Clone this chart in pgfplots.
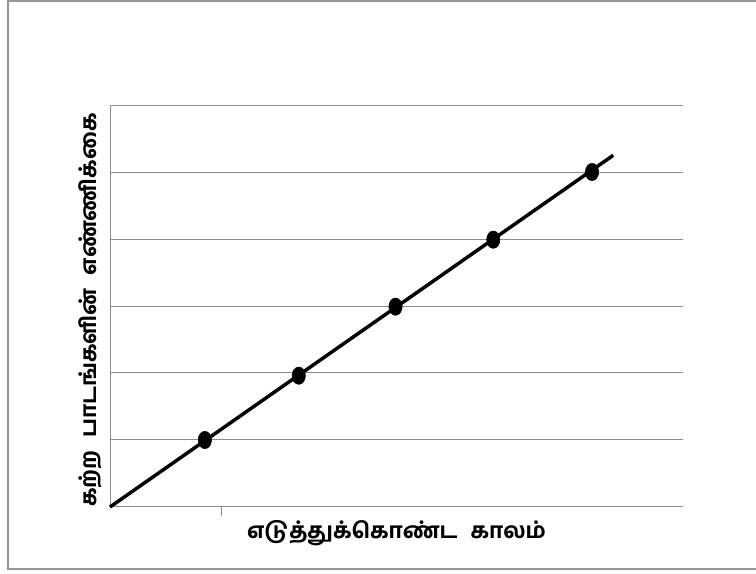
\documentclass[border=0pt]{standalone}
\usepackage{pgfplots}
\pgfplotsset{compat=1.18}
\usepackage{fontspec}
\newfontfamily\tamilfont[Script=Tamil, BoldFont={Hind Madurai Bold}]{Hind Madurai}
\definecolor{gridgray}{RGB}{140,140,140}
\definecolor{framegray}{RGB}{150,150,150}
\begin{document}
\begin{tikzpicture}
\useasboundingbox (0,0) rectangle (567pt,430.5pt);
\draw[framegray, line width=1.5pt] (567pt,429.75pt) -- (6pt,429.75pt) -- (6pt,3.75pt) -- (567pt,3.75pt);
\begin{axis}[
  at={(82.5pt,50.25pt)}, anchor=origin,
  scale only axis, width=429.75pt, height=301.5pt,
  xmin=0, xmax=5.92, ymin=0, ymax=6,
  axis x line*=bottom, axis y line*=left,
  axis line style={gridgray, line width=0.75pt, -},
  xtick={1.157}, xticklabels={},
  ytick={0,1,2,3,4,5,6}, yticklabels={},
  ymajorgrids, grid style={gridgray, line width=0.75pt},
  ytick style={draw=none},
  xtick style={gridgray, line width=0.75pt},
  tick align=outside, major tick length=7pt,
  clip=false,
  xlabel={\tamilfont\bfseries எடுத்துக்கொண்ட\hspace{0.6em}காலம்},
  ylabel={\tamilfont\bfseries கற்ற\hspace{0.6em}பாடங்களின்\hspace{0.6em}எண்ணிக்கை},
  label style={font=\fontsize{16.4}{18}\selectfont},
  xlabel style={at={(axis description cs:0.5,0)}, anchor=center, yshift=-19.5pt},
  ylabel style={at={(axis description cs:-0.035,0.49)}, anchor=center},
]
\addplot[black, line width=2.6pt, no marks] coordinates {(0,0) (5.2,5.25)};
\addplot[only marks, mark=*, mark size=5pt, black, every mark/.append style={yscale=1.3}] coordinates {
(0.98,1.0) (1.95,1.96) (2.95,2.99) (3.96,3.99) (4.98,5.0)};
\end{axis}
\end{tikzpicture}
\end{document}
